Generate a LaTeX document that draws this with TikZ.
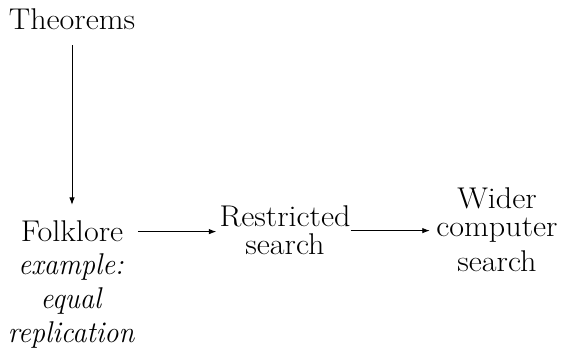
\documentclass[tikz,border=0pt]{standalone}
\usepackage{fontspec}
\setmainfont{Latin Modern Roman}[FakeStretch=1.07]
\newfontfamily\exfam{Latin Modern Roman}[FakeStretch=0.95]
\usetikzlibrary{arrows.meta}
\begin{document}
\begin{tikzpicture}[x=1pt,y=-1pt,
  lbl/.style={font=\fontsize{30}{28}\selectfont, inner sep=0pt, align=center},
  itlbl/.style={font=\exfam\itshape\fontsize{30}{34}\selectfont, inner sep=0pt, align=center},
  arr/.style={line width=0.85pt, -{Latex[length=7.5pt,width=5.5pt]}}]
\useasboundingbox (0,0) rectangle (564,361);
\node[lbl] (thm) at (72,19.6) {Theorems};
\node[lbl] (folk) at (72,231.6) {Folklore};
\node[itlbl] (ex) at (71,300.5) {example:\\equal\\replication};
\node[lbl] (restr) at (285,230.6) {Restricted\\search};
\node[lbl] (wider) at (497,230) {Wider\\computer\\[7pt]search};
\draw[arr, shorten <=15pt, shorten >=16pt] (thm.south) -- (folk.north);
\draw[arr, shorten <=14.5pt, shorten >=3pt] (folk.east) -- (folk.east -| restr.west);
\draw[arr, shorten >=6.5pt] (restr.east) -- (restr.east -| wider.west);
\end{tikzpicture}
\end{document}
